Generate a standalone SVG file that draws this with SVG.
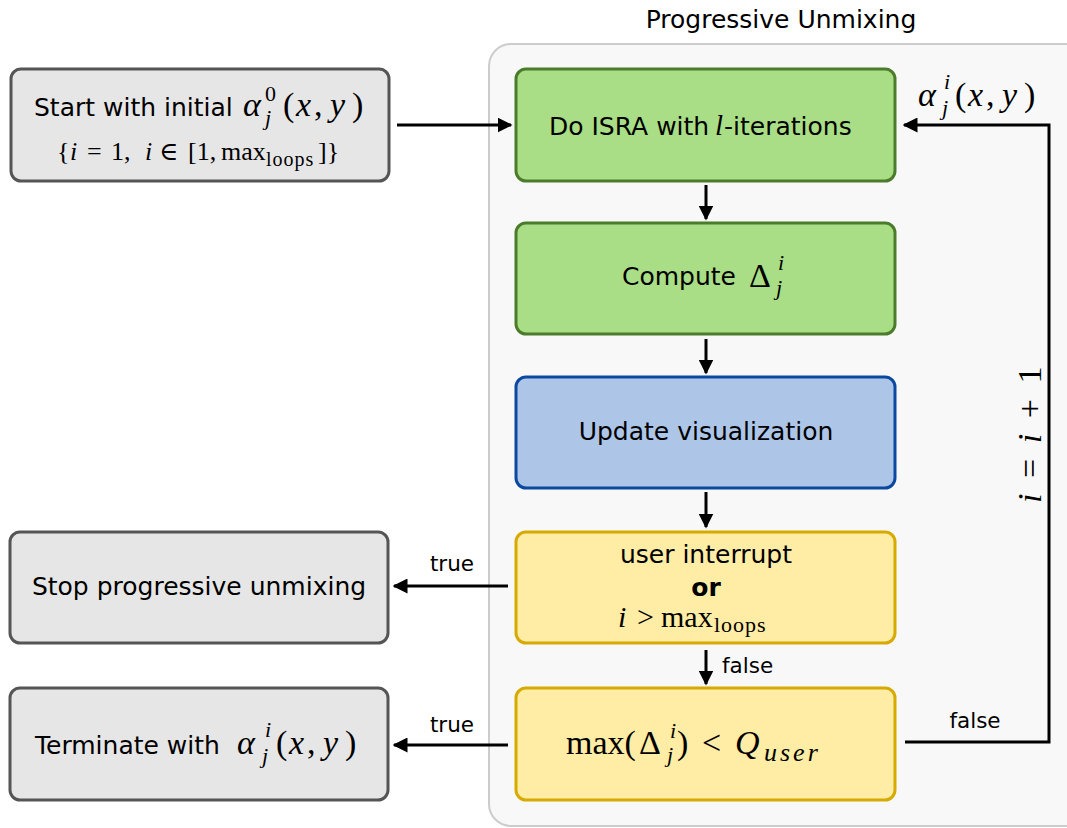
<svg xmlns="http://www.w3.org/2000/svg" width="1067" height="828" viewBox="0 0 1067 828">
<style>
.t{font-family:"DejaVu Sans","Liberation Sans",sans-serif;font-size:25px;fill:#000}
.s{font-family:"DejaVu Sans","Liberation Sans",sans-serif;font-size:21.5px;fill:#000}
.m{font-family:"Liberation Serif","DejaVu Serif",serif;fill:#000}
.mi{font-family:"Liberation Serif","DejaVu Serif",serif;font-style:italic;fill:#000}
.grey{fill:#e6e6e6;stroke:#555;stroke-width:3}
.green{fill:#a9de86;stroke:#4b7c2c;stroke-width:3}
.blue{fill:#adc6e8;stroke:#0b48a0;stroke-width:3}
.yellow{fill:#ffeca5;stroke:#d6aa00;stroke-width:3}
.c{fill:none;stroke:#000;stroke-width:3}
</style>
<defs>
<marker id="ah" viewBox="0 0 10 10" refX="9" refY="5" markerWidth="5" markerHeight="5" orient="auto" markerUnits="strokeWidth">
<path d="M0,0 L10,5 L0,10 Z" fill="#000"/>
</marker>
</defs>
<rect width="1067" height="828" fill="#fff"/>
<g id="container">
<rect x="489" y="44" width="600" height="782" rx="22" fill="#f8f8f8" stroke="#cccccc" stroke-width="2"/>
<text class="t" x="781" y="28" text-anchor="middle" font-size="29.5">Progressive Unmixing</text>
</g>
<g id="start">
<rect class="grey" x="11" y="69" width="378" height="112" rx="10"/>
<text class="t" x="34" y="116">Start with initial</text>
<text class="mi" x="243" y="116" font-size="34">α</text>
<text class="m" x="265" y="101" font-size="22">0</text>
<text class="mi" x="265" y="125" font-size="22">j</text>
<text class="m" y="116" font-size="34"><tspan x="283">(</tspan><tspan class="mi" x="296">x</tspan><tspan x="314">,</tspan><tspan class="mi" x="330">y</tspan><tspan x="352">)</tspan></text>
<text class="m" y="160" font-size="26"><tspan x="57">{</tspan><tspan class="mi" x="70">i</tspan><tspan x="87">=</tspan><tspan x="111">1,</tspan><tspan class="mi" x="145">i</tspan><tspan x="159">∈</tspan><tspan x="188">[1,</tspan><tspan x="221">max</tspan></text>
<text class="m" x="266" y="166" font-size="20" letter-spacing="1">loops</text>
<text class="m" x="318" y="160" font-size="26">]}</text>
</g>
<g id="isra">
<rect class="green" x="516" y="69" width="379" height="112" rx="10"/>
<text class="t" x="549" y="135">Do ISRA with<tspan class="mi" font-size="29" x="715">l</tspan><tspan x="724">-iterations</tspan></text>
</g>
<g id="compute">
<rect class="green" x="516" y="223" width="379" height="111" rx="10"/>
<text class="t" x="622" y="285">Compute</text>
<text class="m" x="749" y="287" font-size="34">Δ</text>
<text class="mi" x="778" y="270" font-size="22">i</text>
<text class="mi" x="776" y="295" font-size="22">j</text>
</g>
<g id="update">
<rect class="blue" x="516" y="377" width="379" height="111" rx="10"/>
<text class="t" x="706" y="440" text-anchor="middle">Update visualization</text>
</g>
<g id="interrupt">
<rect class="yellow" x="516" y="532" width="379" height="111" rx="10"/>
<text class="t" x="706" y="563" text-anchor="middle">user interrupt</text>
<text class="t" x="706" y="596" text-anchor="middle" font-weight="bold">or</text>
<text class="m" y="627" font-size="30"><tspan class="mi" x="618">i</tspan><tspan x="637">&gt;</tspan><tspan x="661">max</tspan></text>
<text class="m" x="714" y="632" font-size="22" letter-spacing="1">loops</text>
</g>
<g id="converge">
<rect class="yellow" x="516" y="688" width="379" height="112" rx="10"/>
<text class="m" y="754" font-size="34"><tspan x="566">max(</tspan><tspan x="639">Δ</tspan></text>
<text class="mi" x="670" y="738" font-size="22">i</text>
<text class="mi" x="667" y="762" font-size="22">j</text>
<text class="m" y="754" font-size="34"><tspan x="677">)</tspan><tspan x="702">&lt;</tspan><tspan class="mi" x="735">Q</tspan></text>
<text class="mi" x="764" y="761" font-size="26" letter-spacing="3">user</text>
</g>
<g id="stop">
<rect class="grey" x="10" y="532" width="378" height="111" rx="10"/>
<text class="t" x="199" y="595" text-anchor="middle">Stop progressive unmixing</text>
</g>
<g id="terminate">
<rect class="grey" x="10" y="688" width="378" height="112" rx="10"/>
<text class="t" x="35" y="754">Terminate with</text>
<text class="mi" x="237" y="754" font-size="34">α</text>
<text class="mi" x="265" y="737" font-size="22">i</text>
<text class="mi" x="262" y="763" font-size="22">j</text>
<text class="m" y="754" font-size="34"><tspan x="276">(</tspan><tspan class="mi" x="289">x</tspan><tspan x="307">,</tspan><tspan class="mi" x="323">y</tspan><tspan x="345">)</tspan></text>
</g>
<g id="connectors">
<line class="c" x1="397" y1="125" x2="511" y2="125" marker-end="url(#ah)"/>
<line class="c" x1="706" y1="185" x2="706" y2="219" marker-end="url(#ah)"/>
<line class="c" x1="706" y1="339" x2="706" y2="373" marker-end="url(#ah)"/>
<line class="c" x1="706" y1="492" x2="706" y2="527" marker-end="url(#ah)"/>
<line class="c" x1="706" y1="650" x2="706" y2="684" marker-end="url(#ah)"/>
<line class="c" x1="508" y1="586" x2="394" y2="586" marker-end="url(#ah)"/>
<line class="c" x1="508" y1="745" x2="394" y2="745" marker-end="url(#ah)"/>
<polyline class="c" points="905,742 1049,742 1049,125 904,125" marker-end="url(#ah)"/>
<text class="s" x="722" y="673">false</text>
<text class="s" x="452" y="571" text-anchor="middle">true</text>
<text class="s" x="452" y="732" text-anchor="middle">true</text>
<text class="s" x="975" y="728" text-anchor="middle">false</text>
<text class="mi" x="918" y="106" font-size="34">α</text>
<text class="mi" x="944" y="89" font-size="22">i</text>
<text class="mi" x="942" y="115" font-size="22">j</text>
<text class="m" y="106" font-size="34"><tspan x="955">(</tspan><tspan class="mi" x="968">x</tspan><tspan x="986">,</tspan><tspan class="mi" x="1002">y</tspan><tspan x="1024">)</tspan></text>
<text class="m" transform="translate(1041,433) rotate(-90)" text-anchor="middle" font-size="34" letter-spacing="3.5"><tspan class="mi">i</tspan> = <tspan class="mi">i</tspan> + 1</text>
</g>
</svg>
